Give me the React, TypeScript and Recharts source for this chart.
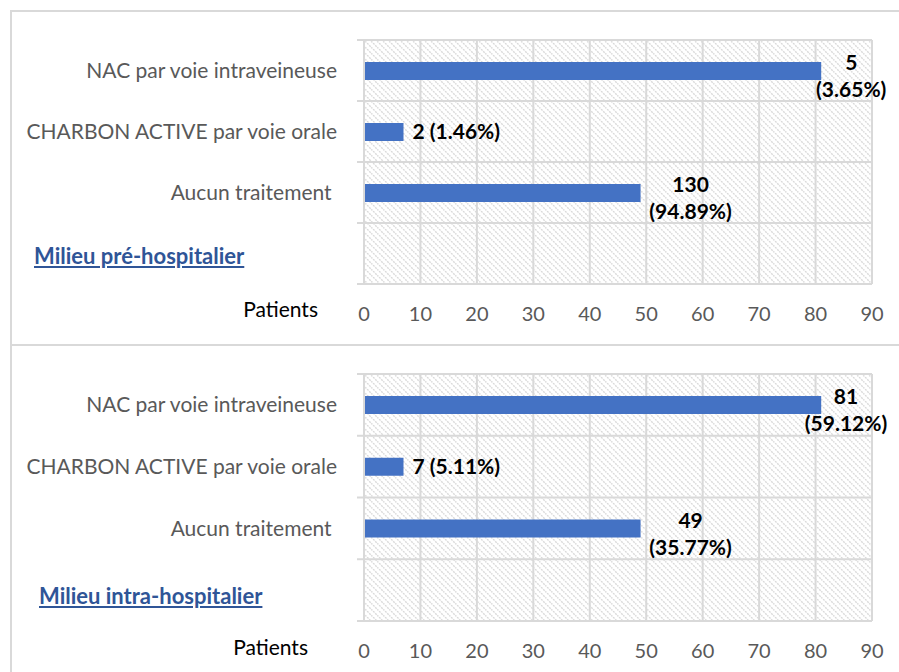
import React from "react";
import {
  BarChart,
  Bar,
  XAxis,
  YAxis,
  CartesianGrid,
  LabelList,
} from "recharts";

const categories = [
  "NAC par voie intraveineuse",
  "CHARBON ACTIVE par voie orale",
  "Aucun traitement ",
  "",
];

// bar lengths as drawn (top panel uses same lengths as bottom one)
const preValues = [81, 7, 49, null];
const preLabels = ["5\n(3.65%)", "2 (1.46%)", "130\n(94.89%)", ""];

const intraValues = [81, 7, 49, null];
const intraLabels = ["81\n(59.12%)", "7 (5.11%)", "49\n(35.77%)", ""];

const xTicks = [0, 10, 20, 30, 40, 50, 60, 70, 80, 90];

const FONT = "Lato, 'Open Sans', sans-serif";
const GRID = "#d9d9d9";
const BAR = "#4472C4";

const CHART_W = 899;
const AXIS_X = 364;
const RIGHT_LIMIT = 888;

function CategoryTick({ x, y, payload, index, bandHalf, last }: any) {
  return (
    <g>
      <line x1={AXIS_X - 7} x2={AXIS_X} y1={y - bandHalf} y2={y - bandHalf} stroke={GRID} strokeWidth={2} />
      {index === last && (
        <line x1={AXIS_X - 7} x2={AXIS_X} y1={y + bandHalf} y2={y + bandHalf} stroke={GRID} strokeWidth={2} />
      )}
      <text
        x={x}
        y={y}
        dy="0.35em"
        textAnchor="end"
        fill="#595959"
        fontSize={21}
        fontFamily={FONT}
        style={{ whiteSpace: "pre" }}
      >
        {payload.value}
      </text>
    </g>
  );
}

function makeLabel(labels: string[]) {
  return function DataLabel(props: any) {
    const { x, y, width, height, index } = props;
    const text = labels[index];
    if (!text) return null;
    const lines = text.split("\n");
    const end = x + width;
    const cy = y + height / 2;
    const fs = 21;
    if (lines.length === 1) {
      return (
        <text x={end + 9} y={cy} dy="0.35em" fontSize={fs} fontWeight={700} fontFamily={FONT} fill="#000">
          {text}
        </text>
      );
    }
    const w = Math.max(...lines.map((l) => l.length)) * fs * 0.5;
    const cx = Math.min(end + 8 + w / 2, RIGHT_LIMIT - w / 2);
    return (
      <text textAnchor="middle" fontSize={fs} fontWeight={700} fontFamily={FONT} fill="#000">
        <tspan x={cx} y={cy - 1}>{lines[0]}</tspan>
        <tspan x={cx} y={cy + 26}>{lines[1]}</tspan>
      </text>
    );
  };
}

function Panel({
  values,
  labels,
  height,
  plotTop,
  plotBottom,
}: {
  values: (number | null)[];
  labels: string[];
  height: number;
  plotTop: number;
  plotBottom: number;
}) {
  const data = categories.map((name, i) => ({ name, value: values[i] }));
  const plotH = plotBottom - plotTop;
  const bandHalf = plotH / categories.length / 2;
  return (
    <BarChart
      width={CHART_W}
      height={height}
      data={data}
      layout="vertical"
      margin={{ top: plotTop, right: CHART_W - 872, bottom: 0, left: 0 }}
      barCategoryGap={0}
    >
      <CartesianGrid
        stroke={GRID}
        strokeWidth={2}
        fill="url(#hatch)"
        fillOpacity={1}
        horizontalCoordinatesGenerator={({ offset }: any) =>
          categories.map((_, i) => offset.top + (i * offset.height) / categories.length).concat(offset.top + offset.height)
        }
      />
      <XAxis
        type="number"
        domain={[0, 90]}
        ticks={xTicks}
        interval={0}
        height={height - plotBottom}
        tickLine={false}
        axisLine={false}
        tickSize={0}
        tickMargin={23}
        tick={{ fill: "#595959", fontSize: 20, fontFamily: FONT }}
      />
      <YAxis
        type="category"
        dataKey="name"
        width={AXIS_X}
        axisLine={{ stroke: GRID, strokeWidth: 2 }}
        tickLine={false}
        tickSize={0}
        tickMargin={27}
        interval={0}
        tick={<CategoryTick bandHalf={bandHalf} last={categories.length - 1} />}
      />
      <Bar dataKey="value" fill={BAR} barSize={18} isAnimationActive={false}>
        <LabelList dataKey="value" content={makeLabel(labels)} />
      </Bar>
    </BarChart>
  );
}

export default function App() {
  return (
    <div style={{ position: "absolute", left: 0, top: 0, width: 899, height: 672, background: "#fff", overflow: "hidden" }}>
      <svg width={0} height={0} style={{ position: "absolute" }}>
        <defs>
          <pattern id="hatch" width={6} height={6} patternUnits="userSpaceOnUse">
            <rect width={6} height={6} fill="#ffffff" />
            <path d="M-1,-1 L7,7 M-1,5 L1,7 M5,-1 L7,1" stroke="#dadada" strokeWidth={1.4} strokeDasharray="2 1" />
          </pattern>
        </defs>
      </svg>
      {/* frame lines */}
      <div style={{ position: "absolute", left: 10, top: 11, width: 2, height: 661, background: GRID }} />
      <div style={{ position: "absolute", left: 10, top: 10, width: 889, height: 2, background: GRID }} />
      <div style={{ position: "absolute", left: 10, top: 344, width: 889, height: 2, background: GRID }} />

      <div style={{ position: "absolute", left: 0, top: 0 }}>
        <Panel values={preValues} labels={preLabels} height={340} plotTop={40} plotBottom={284} />
      </div>
      <div style={{ position: "absolute", left: 0, top: 334 }}>
        <Panel values={intraValues} labels={intraLabels} height={338} plotTop={40} plotBottom={287} />
      </div>

      <div style={{ position: "absolute", left: 34, top: 242, fontFamily: FONT, fontWeight: 700, fontSize: 22, color: "#2F5597", textDecoration: "underline" }}>
        Milieu pré-hospitalier
      </div>
      <div style={{ position: "absolute", left: 39, top: 582, fontFamily: FONT, fontWeight: 700, fontSize: 22, color: "#2F5597", textDecoration: "underline" }}>
        Milieu intra-hospitalier
      </div>
      <div style={{ position: "absolute", right: 899 - 318, top: 296, fontFamily: FONT, fontSize: 21, color: "#000" }}>
        Patients
      </div>
      <div style={{ position: "absolute", right: 899 - 308, top: 634, fontFamily: FONT, fontSize: 21, color: "#000" }}>
        Patients
      </div>
    </div>
  );
}
